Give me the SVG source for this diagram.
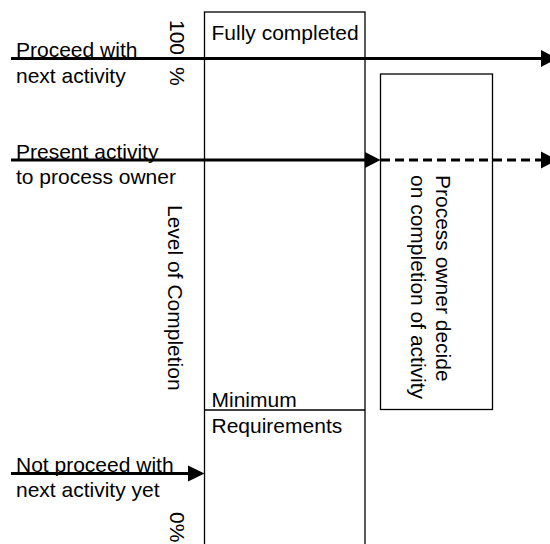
<svg xmlns="http://www.w3.org/2000/svg" width="550" height="544" viewBox="0 0 550 544">
  <style>
    text { font-family: "Liberation Sans", Arial, sans-serif; font-size: 21px; fill: #000; }
    .box { fill: none; stroke: #000; stroke-width: 1.3; }
    .flow { fill: none; stroke: #000; stroke-width: 3; }
    .dash { stroke-dasharray: 9 5; }
    .head { fill: #000; stroke: none; }
  </style>
  <rect width="550" height="544" fill="#fff"/>

  <!-- completion scale column -->
  <g id="completion-scale">
    <rect class="box" x="204.5" y="12" width="160.5" height="540"/>
    <line class="box" x1="204.5" y1="410" x2="365" y2="410"/>
    <text x="211.5" y="40">Fully completed</text>
    <text x="211.5" y="407">Minimum</text>
    <text x="211.5" y="433">Requirements</text>
    <text transform="translate(169.5,20) rotate(90)">100 <tspan dx="6">%</tspan></text>
    <text transform="translate(169.5,512) rotate(90)">0%</text>
    <text transform="translate(168,205) rotate(90)">Level of Completion</text>
  </g>

  <!-- decision by process owner -->
  <g id="owner-decision">
    <rect class="box" x="380.5" y="74" width="112" height="335.5"/>
    <text transform="translate(435.5,175) rotate(90)">Process owner decide</text>
    <text transform="translate(411,175) rotate(90)">on completion of activity</text>
  </g>

  <!-- row labels -->
  <g id="proceed-label">
    <text x="16" y="56.5">Proceed with</text>
    <text x="16" y="82.5">next activity</text>
  </g>
  <g id="present-label">
    <text x="16" y="158.5">Present activity</text>
    <text x="16" y="184">to process owner</text>
  </g>
  <g id="not-proceed-label">
    <text x="16" y="471.5">Not proceed with</text>
    <text x="16" y="497">next activity yet</text>
  </g>

  <!-- flow arrows -->
  <g id="connectors">
    <line class="flow" x1="11" y1="58.5" x2="542" y2="58.5"/>
    <polygon class="head" points="541,50 557,58.5 541,67"/>

    <line class="flow" x1="11" y1="160" x2="366" y2="160"/>
    <polygon class="head" points="365,152 380.5,160 365,168"/>
    <line class="flow dash" x1="381" y1="160" x2="542" y2="160"/>
    <polygon class="head" points="541,151.5 557,160 541,168.5"/>

    <line class="flow" x1="11" y1="473.5" x2="189" y2="473.5"/>
    <polygon class="head" points="188,465.5 204.5,473.5 188,481.5"/>
  </g>
</svg>
